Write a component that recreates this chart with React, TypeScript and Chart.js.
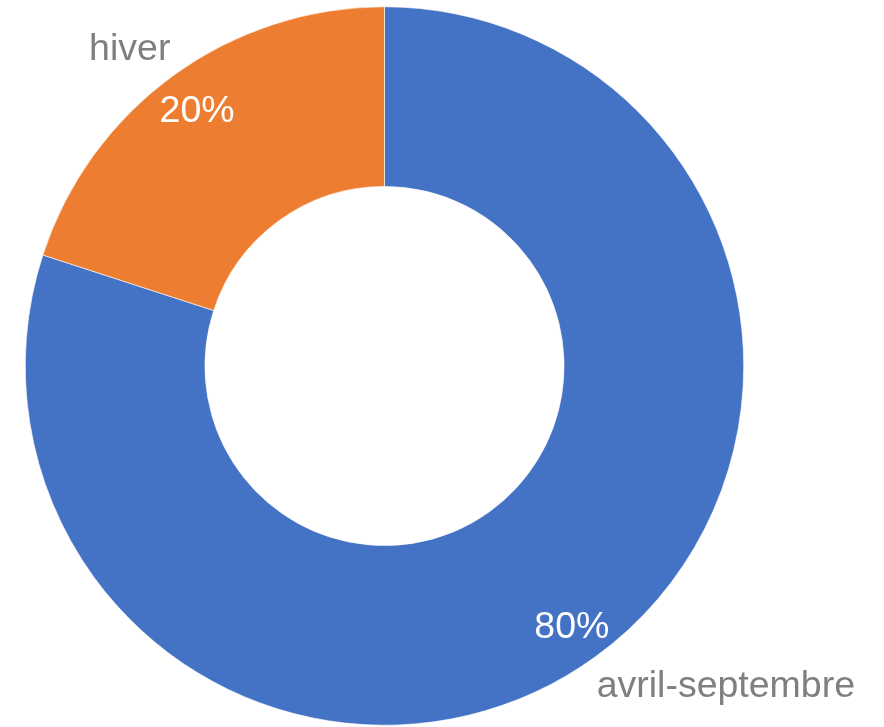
import React, { useEffect, useRef } from "react";
import { Chart, registerables } from "chart.js";

Chart.register(...registerables);

const categories = ["avril-septembre", "hiver"];
const values = [80, 20];
const percentLabels = ["80%", "20%"];
const colors = ["#4472C4", "#ED7D31"];

const labelPlugin = {
  id: "sliceLabels",
  afterDatasetsDraw(chart: any) {
    const ctx = chart.ctx;
    const meta = chart.getDatasetMeta(0);
    ctx.save();
    ctx.font = '37.5px "Liberation Sans", Arial, sans-serif';
    meta.data.forEach((arc: any, i: number) => {
      const { x, y, startAngle, endAngle, innerRadius, outerRadius } = arc.getProps(
        ["x", "y", "startAngle", "endAngle", "innerRadius", "outerRadius"],
        true
      );
      const mid = (startAngle + endAngle) / 2;
      const rIn = innerRadius + (outerRadius - innerRadius) * 0.775;
      const px = x + Math.cos(mid) * rIn;
      const py = y + Math.sin(mid) * rIn;
      ctx.fillStyle = "#FFFFFF";
      ctx.textAlign = "center";
      ctx.textBaseline = "alphabetic";
      ctx.fillText(percentLabels[i], px, py + 14);

      const ox = x + Math.cos(mid) * outerRadius;
      const oy = y + Math.sin(mid) * outerRadius;
      ctx.fillStyle = "#7F7F7F";
      const left = ox < x;
      const up = oy < y;
      ctx.textAlign = left ? "right" : "left";
      const tx = left ? ox - 3 : ox + 1;
      const ty = up ? oy - 15 : oy + 40;
      ctx.fillText(categories[i], tx, ty);
    });
    ctx.restore();
  },
};

export default function App() {
  const ref = useRef<HTMLCanvasElement>(null);
  useEffect(() => {
    if (!ref.current) return;
    const chart = new Chart(ref.current, {
      type: "doughnut",
      data: {
        labels: categories,
        datasets: [
          {
            data: values,
            backgroundColor: colors,
            borderColor: "#FFFFFF",
            borderWidth: 0.6,
          },
        ],
      },
      options: {
        responsive: false,
        animation: false,
        cutout: "50%",
        layout: { padding: { left: 25, right: 140, top: 6, bottom: 1 } },
        plugins: {
          legend: { display: false },
          tooltip: { enabled: false },
        },
      },
      plugins: [labelPlugin],
    });
    return () => chart.destroy();
  }, []);
  return (
    <div style={{ position: "absolute", left: 0, top: 0, width: 884, height: 727, background: "#fff" }}>
      <canvas ref={ref} width={884} height={727} style={{ width: 884, height: 727, display: "block" }} />
    </div>
  );
}
